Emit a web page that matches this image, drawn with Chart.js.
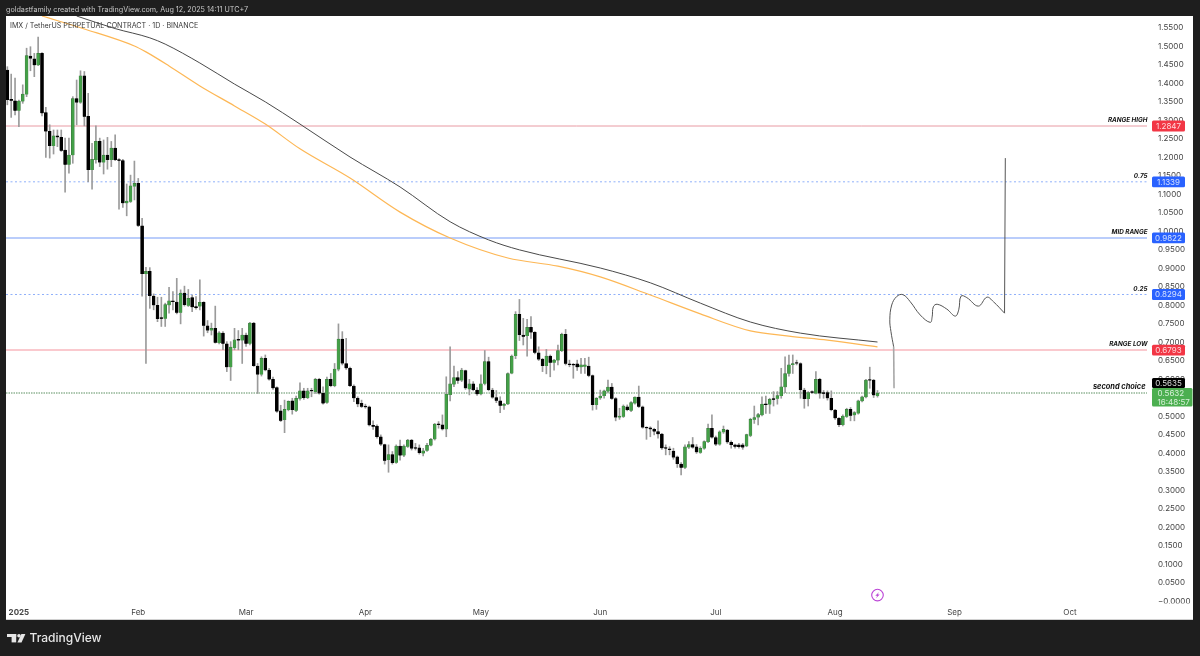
<!DOCTYPE html>
<html>
<head>
<meta charset="utf-8">
<title>IMX / TetherUS</title>
<style>
html,body{margin:0;padding:0;background:#1e1e1e;}
canvas{display:block;}
</style>
<script src="https://cdn.jsdelivr.net/npm/chart.js@4"></script>
</head>
<body>
<canvas id="c" width="1200" height="656"></canvas>
<script>
const firstDay = -3; // days relative to 1 Jan 2025
const opens = [
1.436,1.357,1.353,1.326,1.351,1.370,1.474,1.466,1.449,1.481,
1.321,1.270,1.231,1.258,1.254,1.220,1.180,1.206,1.359,1.348,
1.420,1.311,1.166,1.193,1.243,1.186,1.206,1.193,1.225,1.193,
1.191,1.076,1.080,1.121,1.130,1.015,.885,.892,.825,.800,
.765,.764,.800,.812,.809,.780,.833,.799,.821,.797,
.797,.808,.745,.732,.738,.698,.725,.696,.633,.685,
.708,.705,.720,.696,.752,.636,.613,.657,.625,.600,
.578,.515,.490,.517,.542,.515,.548,.569,.550,.570,
.566,.600,.562,.537,.600,.582,.627,.709,.643,.630,
.582,.549,.535,.527,.526,.476,.474,.445,.424,.382,
.397,.375,.420,.394,.418,.436,.415,.415,.400,.407,
.421,.438,.479,.477,.465,.558,.586,.605,.597,.624,
.573,.588,.571,.560,.588,.648,.571,.551,.542,.529,
.533,.616,.663,.776,.720,.717,.741,.727,.672,.654,
.636,.663,.645,.651,.677,.722,.641,.640,.642,.633,
.634,.636,.610,.531,.549,.555,.567,.579,.548,.497,
.499,.526,.515,.535,.552,.526,.470,.469,.465,.459,
.452,.415,.412,.406,.391,.371,.361,.416,.424,.418,
.402,.413,.431,.468,.443,.424,.457,.463,.430,.423,
.423,.423,.419,.448,.491,.497,.503,.533,.532,.548,
.548,.555,.579,.615,.639,.645,.643,.571,.547,.566,
.562,.600,.564,.564,.549,.517,.495,.477,.499,.519,
.503,.508,.541,.552,.599,.598,.555];
const closes = [
1.355,1.353,1.326,1.352,1.371,1.475,1.467,1.449,1.481,1.319,
1.270,1.231,1.258,1.254,1.218,1.180,1.206,1.359,1.348,1.420,
1.310,1.166,1.195,1.243,1.186,1.206,1.193,1.225,1.193,1.191,
1.076,1.082,1.123,1.130,1.015,.885,.892,.825,.800,.763,
.764,.802,.812,.809,.780,.833,.801,.819,.795,.793,
.808,.745,.732,.738,.699,.726,.696,.633,.687,.707,
.705,.720,.696,.752,.636,.613,.657,.625,.600,.576,
.513,.488,.519,.541,.517,.549,.569,.550,.569,.568,
.600,.562,.535,.600,.582,.628,.709,.643,.630,.582,
.549,.533,.526,.525,.476,.472,.444,.424,.380,.397,
.374,.420,.394,.420,.436,.413,.413,.401,.407,.422,
.438,.479,.477,.465,.560,.588,.605,.596,.625,.576,
.588,.571,.560,.588,.648,.571,.551,.542,.529,.533,
.616,.663,.776,.720,.715,.741,.727,.672,.654,.636,
.663,.645,.652,.678,.722,.642,.639,.638,.633,.639,
.639,.610,.531,.549,.555,.569,.579,.548,.497,.501,
.528,.517,.537,.552,.526,.470,.468,.465,.459,.452,
.414,.413,.409,.389,.371,.361,.418,.424,.416,.403,
.414,.432,.468,.443,.424,.458,.465,.430,.423,.418,
.417,.416,.451,.492,.497,.505,.533,.531,.546,.545,
.556,.580,.616,.639,.643,.643,.571,.547,.564,.564,
.600,.562,.561,.549,.517,.495,.477,.501,.519,.502,
.510,.542,.553,.598,.597,.557,.563];
const highs = [
1.445,1.425,1.414,1.355,1.396,1.495,1.499,1.481,1.525,1.483,
1.335,1.288,1.274,1.274,1.274,1.252,1.252,1.364,1.409,1.434,
1.432,1.373,1.238,1.285,1.252,1.247,1.254,1.243,1.261,1.197,
1.195,1.128,1.152,1.190,1.143,1.035,.903,.902,.831,.822,
.822,.806,.849,.837,.873,.842,.852,.843,.828,.824,
.869,.810,.759,.752,.798,.729,.729,.702,.702,.738,
.732,.738,.725,.754,.754,.643,.661,.666,.630,.606,
.580,.530,.544,.542,.549,.555,.591,.576,.576,.576,
.603,.603,.580,.606,.616,.643,.750,.729,.711,.633,
.585,.553,.544,.533,.528,.488,.477,.450,.425,.423,
.405,.423,.436,.423,.438,.438,.427,.423,.414,.427,
.441,.481,.486,.504,.607,.688,.636,.621,.630,.625,
.600,.594,.578,.612,.678,.660,.576,.570,.553,.535,
.618,.666,.783,.816,.765,.762,.770,.729,.688,.657,
.681,.666,.654,.693,.725,.735,.652,.643,.652,.657,
.657,.660,.612,.551,.571,.571,.598,.589,.551,.522,
.531,.531,.540,.553,.582,.528,.472,.472,.468,.488,
.454,.423,.418,.414,.393,.375,.423,.432,.443,.424,
.418,.434,.479,.504,.447,.461,.474,.465,.434,.425,
.427,.427,.452,.495,.528,.508,.553,.555,.549,.567,
.567,.630,.661,.666,.666,.652,.645,.576,.567,.569,
.621,.603,.570,.569,.569,.519,.497,.504,.522,.524,
.513,.544,.555,.600,.633,.600,.570];
const lows = [
1.342,1.308,1.315,1.283,1.346,1.364,1.434,1.418,1.448,1.312,
1.200,1.198,1.209,1.229,1.216,1.106,1.157,1.184,1.288,1.346,
1.285,1.134,1.114,1.184,1.175,1.155,1.168,1.175,1.191,1.060,
1.065,1.042,1.078,1.085,1.013,.825,.643,.792,.788,.756,
.743,.743,.779,.788,.777,.750,.798,.797,.783,.790,
.788,.717,.726,.720,.698,.696,.680,.621,.597,.680,
.680,.643,.689,.693,.635,.562,.609,.623,.598,.573,
.511,.486,.456,.515,.506,.513,.544,.546,.548,.553,
.562,.560,.533,.535,.580,.580,.623,.639,.627,.580,
.540,.526,.524,.522,.474,.465,.441,.421,.371,.349,
.371,.373,.382,.391,.416,.409,.409,.398,.393,.405,
.420,.436,.468,.463,.445,.542,.580,.589,.594,.573,
.558,.569,.557,.558,.585,.569,.549,.537,.510,.519,
.532,.615,.656,.705,.693,.663,.711,.669,.651,.621,
.615,.607,.625,.639,.675,.639,.634,.603,.624,.616,
.616,.607,.517,.519,.546,.549,.564,.546,.488,.492,
.497,.515,.513,.533,.524,.468,.438,.445,.450,.441,
.411,.396,.396,.384,.362,.342,.359,.413,.414,.400,
.400,.411,.429,.441,.421,.422,.454,.427,.414,.414,
.414,.411,.418,.445,.481,.477,.501,.508,.508,.528,
.533,.549,.564,.609,.616,.639,.549,.522,.528,.562,
.561,.549,.549,.544,.515,.492,.472,.474,.497,.488,
.488,.506,.539,.550,.576,.551,.552];

const maBlackDays = [15,25,34,38,47,56,64,73,86,99,112,122,130,151,164,177,190,203,223];
const maBlack = [1.582,1.548,1.523,1.506,1.455,1.398,1.350,1.290,1.201,1.120,1.026,.977,.950,.901,.861,.806,.755,.725,.701];
const maOrangeDays = [6,17,30,33,39,47,56,64,73,86,99,112,127,140,151,164,177,190,200,210,223];
const maOrange = [1.582,1.547,1.501,1.485,1.447,1.393,1.339,1.290,1.223,1.144,1.052,.982,.928,.906,.877,.828,.777,.731,.717,.706,.688];

const sketchDays = [227.2,226.5,226.2,226.7,228.0,229.6,231.5,234.1,236.7,237.2,237.5,238.5,241.0,243.2,244.1,244.7,246.2,249.2,251.4,253.1,256.0];
const sketchPrices = [.688,.729,.761,.801,.824,.829,.810,.774,.754,.769,.796,.803,.790,.771,.788,.825,.821,.798,.822,.810,.779];
const stemDays = [227.3,227.2];
const stemPrices = [.576,.688];
const riseDays = [256.0,256.2];
const risePrices = [.779,1.198];

const levelValues = [1.2847,1.1339,.9822,.8294,.6793,.5632];
const levelNames = ["RANGE HIGH","0.75","MID RANGE","0.25","RANGE LOW","second choice"];
const levelTexts = ["1.2847","1.1339","0.9822","0.8294","0.6793"];

const monthDays = [0,31,59,90,120,151,181,212,243,273];
const monthNames = ["2025","Feb","Mar","Apr","May","Jun","Jul","Aug","Sep","Oct"];
const priceTicks = [0,.05,.1,.15,.2,.25,.3,.35,.4,.45,.5,.55,.6,.65,.7,.75,.8,.85,.9,.95,1,1.05,1.1,1.15,1.2,1.25,1.3,1.35,1.4,1.45,1.5,1.55];
const titleText = "IMX / TetherUS PERPETUAL CONTRACT · 1D · BINANCE";
const headerText = "goldastfamily created with TradingView.com, Aug 12, 2025 14:11 UTC+7";
const closeLabel = "0.5635", lastLabel = "0.5632", countdown = "16:48:57";
const alertDay = 223, alertPrice = .017;

const xMin = -3.35, xMax = 293;
const yMin = -.007, yMax = 1.582;
const levelColors = ["#e89aa3","#8fb0fa","#a3bdfa","#8fb0fa","#f9b7be","#5b8f60"];
const levelWidths = [1,1,1.5,1,1.5,1];
const levelDash = [[],[2,2.5],[],[2,2.5],[],[1.5,1]];
const tagColors = ["#f23645","#2962ff","#2962ff","#2962ff","#f23645"];

const toXY = (xs,ys)=>xs.map((x,i)=>({x,y:ys[i]}));
const isUp = (i)=>closes[i]>=opens[i];

const datasets = [];
levelValues.forEach((v,i)=>{
  datasets.push({type:'line',data:[{x:xMin,y:v},{x:xMax,y:v}],borderColor:levelColors[i],borderWidth:levelWidths[i],borderDash:levelDash[i],pointRadius:0,order:9,tension:0});
});
datasets.push({type:'line',data:toXY(maBlackDays,maBlack),borderColor:'#4a4a4a',borderWidth:1,pointRadius:0,cubicInterpolationMode:'monotone',order:8});
datasets.push({type:'line',data:toXY(maOrangeDays,maOrange),borderColor:'#fdb755',borderWidth:1.2,pointRadius:0,cubicInterpolationMode:'monotone',order:8});
datasets.push({type:'line',data:toXY(stemDays,stemPrices),borderColor:'#a8a8a8',borderWidth:1.6,pointRadius:0,order:7});
datasets.push({type:'line',data:toXY(sketchDays,sketchPrices),borderColor:'#555',borderWidth:1,pointRadius:0,tension:.4,order:7});
datasets.push({type:'line',data:toXY(riseDays,risePrices),borderColor:'#555',borderWidth:1,pointRadius:0,order:7});
datasets.push({type:'bar',grouped:false,data:highs.map((h,i)=>({x:firstDay+i,y:[lows[i],h]})),backgroundColor:'#9b9b9b',barThickness:1,order:5});
datasets.push({type:'bar',grouped:false,data:opens.map((o,i)=>({x:firstDay+i,y:[o,closes[i]]})),
  backgroundColor:opens.map((o,i)=>isUp(i)?'#43a047':'#000000'),
  borderColor:opens.map((o,i)=>isUp(i)?'#3a6b3c':'#000000'),
  borderWidth:.5,barThickness:3,minBarLength:1,order:4});

const sans = "Inter, 'Liberation Sans', sans-serif";

function roundTag(ctx,x,y,w,h,color){
  ctx.fillStyle=color;
  ctx.beginPath();ctx.roundRect(x,y,w,h,1.5);ctx.fill();
}

const framePlugin = {
  id:'frame',
  beforeDraw(chart){
    const c=chart.ctx;
    c.save();
    c.fillStyle='#1e1e1e';c.fillRect(0,0,1200,656);
    c.fillStyle='#ffffff';c.fillRect(6,16,1187,603);
    c.fillStyle='#d0d0d0';c.fillRect(6,619,1187,1);
    c.fillStyle='#c8c8c8';
    c.font="7.2px "+sans;c.textBaseline='middle';c.textAlign='left';
    c.fillText(headerText,6,9.5);
    c.restore();
  },
  afterDraw(chart){
    const c=chart.ctx, y=chart.scales.y, x=chart.scales.x;
    c.save();
    // clip the zero tick like the reference
    c.fillStyle='#fff';c.fillRect(1147,603.5,46,12);
    // title
    c.fillStyle='#3a3a3a';c.font="7.15px "+sans;c.textAlign='left';c.textBaseline='middle';
    c.fillText(titleText,10,25.5);
    // level annotations
    c.textAlign='right';c.fillStyle='#111';
    levelNames.forEach((n,i)=>{
      const p=y.getPixelForValue(levelValues[i]);
      if(i<5){
        c.font="italic 700 6.3px "+sans;
        c.fillText(n,1147.5,p-5.6);
      }else{
        c.font="italic 700 7.4px "+sans;
        c.fillText(n,1145.5,p-6);
      }
    });
    // tags
    c.textAlign='center';c.font="8px "+sans;
    levelTexts.forEach((t,i)=>{
      const p=y.getPixelForValue(levelValues[i]);
      roundTag(c,1152,p-5.4,33,10.8,tagColors[i]);
      c.fillStyle=i===0||i===4?'#ffd9dc':'#d6e2ff';
      c.fillText(t,1168.5,p+.4);
    });
    const lp=y.getPixelForValue(levelValues[5]);
    roundTag(c,1152,lp-5,40.5,18.5,'#4caf50');
    c.fillStyle='#d7f0d8';
    c.textAlign='left';
    c.fillText(lastLabel,1157.5,lp+.6);
    c.fillText(countdown,1157.5,lp+9.2);
    roundTag(c,1152,lp-15,33,10,'#000');
    c.fillStyle='#ddd';c.textAlign='center';
    c.fillText(closeLabel,1168.5,lp-9.6);
    // alert icon
    const ax=x.getPixelForValue(alertDay), ay=y.getPixelForValue(alertPrice);
    c.strokeStyle='#bb44d6';c.lineWidth=1.1;
    c.beginPath();c.arc(ax,ay,5.8,0,Math.PI*2);c.stroke();
    c.fillStyle='#bb44d6';
    c.beginPath();c.moveTo(ax+1.6,ay-3.2);c.lineTo(ax-2.2,ay+.6);c.lineTo(ax-.2,ay+.6);c.lineTo(ax-1.6,ay+3.2);c.lineTo(ax+2.2,ay-.6);c.lineTo(ax+.2,ay-.6);c.closePath();c.fill();
    // TradingView logo
    c.fillStyle='#e6e6e6';
    c.fillRect(7,634,9.2,3);c.fillRect(11.6,634,4.6,8.4);
    c.beginPath();c.arc(19,635.7,1.8,0,Math.PI*2);c.fill();
    c.beginPath();c.moveTo(21.4,634);c.lineTo(25.4,634);c.lineTo(21.5,642.4);c.lineTo(17.4,642.4);c.closePath();c.fill();
    c.textAlign='left';c.font="500 12px "+sans;c.fillStyle='#e6e6e6';
    c.fillText("TradingView",29.5,638.6);
    c.restore();
  }
};

new Chart(document.getElementById('c'),{
  type:'bar',
  data:{datasets},
  plugins:[framePlugin],
  options:{
    responsive:false,animation:false,devicePixelRatio:1,
    layout:{padding:{left:6,top:16,right:8,bottom:37}},
    plugins:{legend:{display:false},tooltip:{enabled:false}},
    elements:{line:{borderCapStyle:'butt'}},
    scales:{
      x:{type:'linear',offset:false,min:xMin,max:xMax,
        grid:{display:false,drawTicks:false},border:{display:false},
        afterBuildTicks(s){s.ticks=monthDays.map(v=>({value:v}));},
        afterFit(s){s.height=15;},
        ticks:{autoSkip:false,maxRotation:0,padding:4,color:'#444',
          font:(ctx)=>({family:sans,size:8,weight:ctx.index===0?'700':'400'}),
          callback:(v)=>monthNames[monthDays.indexOf(v)]}
      },
      y:{type:'linear',position:'right',min:yMin,max:yMax,
        grid:{display:false,drawTicks:false},border:{display:false},
        afterBuildTicks(s){s.ticks=priceTicks.map(v=>({value:v}));},
        afterFit(s){s.width=45;},
        ticks:{autoSkip:false,padding:11,color:'#444',font:{family:sans,size:8},
          callback:(v)=>v===0?'−0.0000':v.toFixed(4)}
      }
    }
  }
});
</script>
</body>
</html>
